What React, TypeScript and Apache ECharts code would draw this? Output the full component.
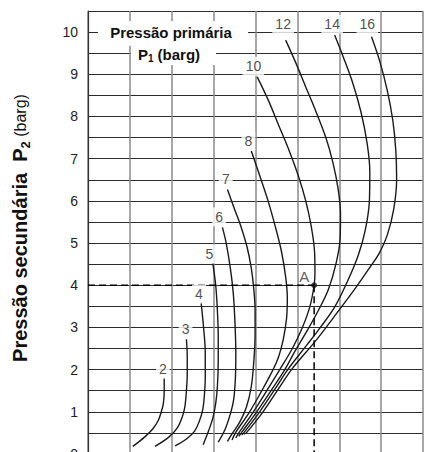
import React, { useEffect, useRef } from 'react';
import * as echarts from 'echarts';

// Curves: secondary pressure P2 (y) against the chart's horizontal position, one per primary pressure P1
const curve2 = [[1.82, 1.82], [1.82, 1.5], [1.80, 1.2], [1.75, 1.0], [1.68, 0.8], [1.55, 0.6], [1.35, 0.4], [1.07, 0.18]];
const curve3 = [[2.35, 2.72], [2.37, 2.3], [2.37, 1.9], [2.35, 1.5], [2.31, 1.1], [2.24, 0.85], [2.12, 0.6], [1.93, 0.4], [1.60, 0.18]];
const curve4 = [[2.70, 3.60], [2.76, 3.0], [2.80, 2.4], [2.80, 1.8], [2.78, 1.4], [2.74, 1.05], [2.66, 0.78], [2.55, 0.55], [2.36, 0.36], [2.08, 0.19]];
const curve5 = [[2.98, 4.52], [3.05, 4.0], [3.09, 3.4], [3.11, 2.8], [3.11, 2.2], [3.09, 1.6], [3.05, 1.2], [2.98, 0.85], [2.88, 0.55], [2.75, 0.22]];
const curve6 = [[3.21, 5.37], [3.30, 5.0], [3.40, 4.4], [3.47, 3.8], [3.51, 3.1], [3.53, 2.4], [3.52, 1.8], [3.48, 1.3], [3.40, 0.95], [3.28, 0.6], [3.11, 0.28]];
const curve7 = [[3.33, 6.27], [3.50, 5.8], [3.65, 5.4], [3.80, 4.9], [3.90, 4.4], [3.96, 3.9], [3.99, 3.4], [3.99, 2.8], [3.96, 2.2], [3.90, 1.6], [3.78, 1.1], [3.62, 0.75], [3.42, 0.45], [3.33, 0.3]];
const curve8 = [[3.90, 7.18], [4.10, 6.6], [4.30, 6.0], [4.47, 5.4], [4.62, 4.8], [4.72, 4.2], [4.76, 3.7], [4.74, 3.2], [4.66, 2.7], [4.55, 2.3], [4.42, 2.0], [4.15, 1.5], [3.86, 1.0], [3.52, 0.5], [3.44, 0.33]];
const curve10 = [[4.04, 8.94], [4.30, 8.4], [4.55, 7.8], [4.80, 7.2], [5.02, 6.6], [5.20, 6.0], [5.33, 5.4], [5.41, 4.8], [5.42, 4.3], [5.40, 4.0], [5.30, 3.5], [5.12, 3.0], [4.88, 2.5], [4.58, 2.0], [4.27, 1.5], [3.95, 1.0], [3.60, 0.5], [3.53, 0.38]];
const curve12 = [[4.72, 9.81], [4.95, 9.3], [5.20, 8.7], [5.45, 8.1], [5.68, 7.5], [5.85, 6.9], [5.97, 6.3], [6.03, 5.7], [6.02, 5.1], [5.92, 4.5], [5.74, 3.9], [5.50, 3.4], [5.22, 2.9], [4.95, 2.45], [4.70, 2.0], [4.37, 1.5], [4.03, 1.0], [3.66, 0.5], [3.60, 0.42]];
const curve14 = [[5.89, 9.93], [6.10, 9.4], [6.32, 8.8], [6.52, 8.1], [6.66, 7.4], [6.73, 6.7], [6.72, 6.0], [6.62, 5.3], [6.45, 4.7], [6.20, 4.1], [5.90, 3.5], [5.55, 3.0], [5.20, 2.55], [4.77, 2.0], [4.44, 1.5], [4.10, 1.0], [3.72, 0.5], [3.67, 0.45]];
const curve16 = [[6.77, 9.89], [6.97, 9.3], [7.15, 8.6], [7.28, 7.9], [7.35, 7.2], [7.37, 6.5], [7.30, 5.8], [7.15, 5.2], [6.95, 4.75], [6.75, 4.45], [6.40, 3.95], [5.95, 3.35], [5.45, 2.7], [4.86, 2.0], [4.52, 1.5], [4.18, 1.0], [3.78, 0.5], [3.73, 0.47]];

const curves = [curve2, curve3, curve4, curve5, curve6, curve7, curve8, curve10, curve12, curve14, curve16];

// Curve labels (primary pressure P1, barg)
const curveLabels = ['2', '3', '4', '5', '6', '7', '8', '10', '12', '14', '16'];
const labelX = [1.79, 2.33, 2.65, 2.90, 3.13, 3.29, 3.83, 3.95, 4.66, 5.83, 6.67];
const labelY = [2.01, 2.96, 3.79, 4.74, 5.62, 6.52, 7.41, 9.19, 10.19, 10.19, 10.19];

// Example point A
const pointA = [5.40, 4.0];
const pointALabel = 'A';

// Y tick labels
const yTickLabels = ['0', '1', '2', '3', '4', '5', '6', '7', '8', '9', '10'];

const FONT = '"Liberation Sans", Arial, Helvetica, sans-serif';

export default function App() {
  const ref = useRef<HTMLDivElement>(null);
  useEffect(() => {
    document.body.style.margin = '0';
    const chart = echarts.init(ref.current!, null, { renderer: 'svg' });
    const series: any[] = curves.map((c) => ({
      type: 'line',
      data: c,
      smooth: 0.35,
      symbol: 'none',
      lineStyle: { color: '#1a1a1a', width: 1.4 },
      z: 3,
    }));
    series.push({
      type: 'line',
      data: [[0, pointA[1]], pointA],
      symbol: 'none',
      lineStyle: { color: '#000', width: 1.5, type: [7, 4] },
      z: 3,
    });
    series.push({
      type: 'line',
      data: [pointA, [pointA[0], 0]],
      symbol: 'none',
      lineStyle: { color: '#000', width: 1.5, type: [7, 4] },
      z: 3,
    });
    series.push({
      type: 'scatter',
      data: [{ name: pointALabel, value: pointA }],
      symbol: 'circle',
      symbolSize: 6,
      itemStyle: { color: '#111' },
      label: {
        show: true,
        formatter: '{b}',
        position: 'inside',
        offset: [-10, -9],
        fontSize: 15,
        color: '#333',
        fontFamily: FONT,
      },
      z: 6,
    });
    series.push({
      type: 'scatter',
      data: labelX.map((x, i) => ({ name: curveLabels[i], value: [x, labelY[i]] })),
      symbolSize: 1,
      itemStyle: { color: 'transparent' },
      label: {
        show: true,
        formatter: '{b}',
        position: 'inside',
        backgroundColor: '#fff',
        padding: [3, 3, 2, 3],
        fontSize: 14,
        color: '#222',
        fontFamily: FONT,
      },
      z: 5,
    });

    chart.setOption({
      animation: false,
      grid: { left: 88, top: 11, width: 335, height: 443, outerBoundsMode: 'none', containLabel: false },
      xAxis: {
        type: 'value',
        min: 0,
        max: 8,
        interval: 1,
        axisLabel: { show: false },
        axisTick: { show: false },
        axisLine: { show: false },
        splitLine: { show: true, lineStyle: { color: '#8a8a8a', width: 1.5 } },
      },
      yAxis: {
        type: 'value',
        min: 0,
        max: 10.5,
        interval: 0.5,
        axisLine: { show: true, lineStyle: { color: '#333', width: 1.2 } },
        axisTick: { show: false },
        axisLabel: {
          formatter: (v: number) => (Number.isInteger(v) ? yTickLabels[v] : ''),
          fontSize: 14,
          color: '#222',
          margin: 10,
          fontFamily: FONT,
        },
        splitLine: { show: true, lineStyle: { color: '#2b2b2b', width: 1.2 } },
      },
      graphic: [
        { type: 'rect', shape: { x: 98, y: 21, width: 150, height: 25 }, style: { fill: '#fff' }, z: 100 },
        { type: 'rect', shape: { x: 131, y: 44, width: 85, height: 21 }, style: { fill: '#fff' }, z: 100 },
        {
          type: 'text',
          x: 171,
          y: 32,
          z: 101,
          style: {
            text: 'Pressão primária',
            fontSize: 15,
            fontWeight: 'bold',
            fontFamily: FONT,
            fill: '#111',
            align: 'center',
            verticalAlign: 'middle',
          },
        },
        {
          type: 'text',
          x: 169,
          y: 54,
          z: 101,
          style: {
            text: '{b|P}{s|1}{b| (barg)}',
            align: 'center',
            verticalAlign: 'middle',
            rich: {
              b: { fontSize: 15, fontWeight: 'bold', fontFamily: FONT, fill: '#111', lineHeight: 18 },
              s: { fontSize: 10, fontWeight: 'bold', fontFamily: FONT, fill: '#111', lineHeight: 10, verticalAlign: 'bottom' },
            },
          },
        },
        {
          type: 'text',
          x: 20,
          y: 228,
          rotation: Math.PI / 2,
          z: 101,
          style: {
            text: '{b|Pressão secundária  P}{s|2}{r| (barg)}',
            align: 'center',
            verticalAlign: 'middle',
            rich: {
              b: { fontSize: 20, fontWeight: 'bold', fontFamily: FONT, fill: '#111', lineHeight: 24 },
              s: { fontSize: 13, fontWeight: 'bold', fontFamily: FONT, fill: '#111', lineHeight: 13, verticalAlign: 'bottom' },
              r: { fontSize: 16, fontFamily: FONT, fill: '#111', lineHeight: 24 },
            },
          },
        },
      ],
      series,
    });
    return () => chart.dispose();
  }, []);
  return <div ref={ref} style={{ width: 439, height: 452 }} />;
}
